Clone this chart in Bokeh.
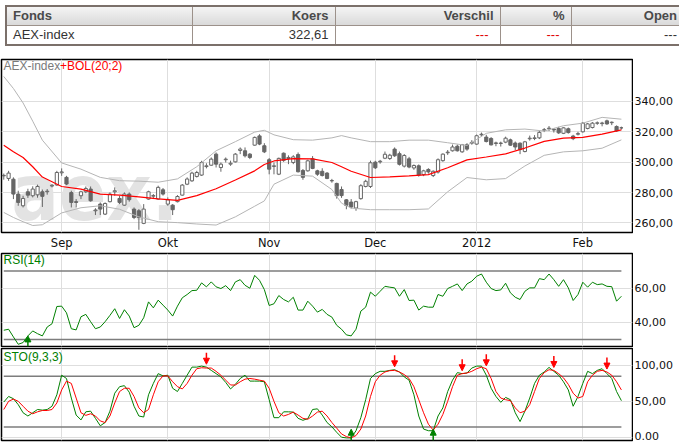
from bokeh.plotting import figure
from bokeh.layouts import column, row
from bokeh.models import (ColumnDataSource, LinearAxis, FixedTicker, Range1d, Div,
                          Arrow, NormalHead, Grid)
from bokeh.core.properties import value
from bokeh.embed import file_html
from bokeh.resources import INLINE

# ---------------- data ----------------
table_headers = ["Fonds", "Koers", "Verschil", "%", "Open"]
table_row = ["AEX-index", "322,61", "---", "---", "---"]

month_idx = [12, 34, 55, 77, 98, 120]
month_labels = ["Sep", "Okt", "Nov", "Dec", "2012", "Feb"]

price_ticks = [260, 280, 300, 320, 340]
price_labels = ["260,00", "280,00", "300,00", "320,00", "340,00"]
rsi_ticks = [40, 60]
rsi_labels = ["40,00", "60,00"]
rsi_levels = [30, 70]
sto_ticks = [0, 50, 100]
sto_labels = ["0.00", "50,00", "100,00"]
sto_levels = [15, 85]

opens = [291.0, 289.3, 288.8, 279.0, 271.3, 280.5, 277.9, 278.5, 280.5, 280.5,
         284.3, 285.0, 293.0, 290.0, 280.0, 274.0, 277.9, 280.5, 282.3, 268.0,
         272.4, 265.8, 274.0, 280.5, 276.1, 271.7, 279.0, 269.1, 268.0, 259.7,
         275.7, 277.6, 275.7, 281.8, 272.4, 271.7, 274.0, 278.3, 285.5, 287.7,
         290.6, 291.5, 297.1, 298.0, 305.3, 296.5, 301.6, 298.7, 300.2, 307.7,
         307.5, 305.3, 311.2, 317.3, 310.8, 301.6, 297.2, 292.1, 305.9, 302.4,
         299.8, 305.0, 294.5, 294.3, 302.2, 294.3, 294.0, 292.8, 287.7, 286.0,
         282.0, 275.2, 273.7, 269.8, 276.0, 284.0, 284.0, 300.0, 300.2, 302.6,
         302.4, 308.6, 305.6, 297.4, 302.2, 296.2, 297.6, 291.8, 295.2, 291.2,
         293.5, 301.0, 306.2, 307.5, 310.5, 306.8, 311.5, 312.5, 311.9, 318.0,
         316.5, 315.6, 312.3, 312.3, 313.2, 314.7, 312.6, 312.5, 307.0, 315.4,
         315.6, 316.0, 321.0, 322.0, 321.7, 322.2, 319.0, 322.0, 317.2, 318.4,
         320.0, 322.2, 322.8, 325.6, 325.4, 327.2, 326.0, 323.5, 322.6]
highs = [292.5, 294.3, 290.0, 281.2, 277.9, 282.5, 284.1, 285.2, 282.0, 282.3,
         285.6, 294.3, 295.9, 291.0, 281.2, 275.7, 281.2, 284.0, 284.0, 269.7,
         273.5, 273.5, 280.1, 283.4, 277.9, 280.1, 280.1, 270.2, 269.1, 272.4,
         281.2, 279.0, 284.5, 283.0, 276.8, 272.4, 278.3, 285.6, 290.0, 293.7,
         294.3, 300.9, 299.3, 303.1, 306.4, 299.8, 303.1, 301.0, 306.0, 309.7,
         309.7, 306.0, 316.9, 318.4, 312.5, 302.7, 299.8, 303.0, 306.4, 304.5,
         304.6, 306.4, 295.5, 301.6, 304.0, 295.0, 296.0, 293.5, 289.0, 286.5,
         284.0, 275.7, 275.7, 274.6, 285.5, 288.4, 301.0, 300.9, 301.5, 307.0,
         305.5, 309.7, 307.0, 305.3, 303.5, 298.5, 298.5, 295.0, 296.0, 294.6,
         302.5, 305.8, 308.0, 311.6, 311.6, 312.0, 312.5, 314.5, 318.2, 319.5,
         318.0, 316.5, 313.5, 313.5, 316.8, 315.5, 313.6, 313.0, 314.0, 317.5,
         317.8, 320.5, 322.5, 323.8, 322.5, 323.3, 323.0, 322.8, 318.0, 320.0,
         326.4, 325.8, 326.4, 326.8, 326.6, 328.0, 326.8, 324.2, 323.4]
lows = [288.5, 287.7, 275.7, 271.3, 270.2, 276.5, 276.8, 276.6, 270.5, 278.6,
        283.4, 284.5, 291.0, 284.9, 270.2, 270.2, 275.7, 279.6, 274.0, 265.2,
        265.2, 265.2, 273.5, 277.9, 272.4, 271.3, 274.0, 262.5, 255.5, 259.2,
        275.3, 275.7, 275.3, 278.0, 271.3, 265.2, 273.5, 277.9, 284.9, 287.1,
        289.9, 291.0, 295.9, 297.6, 296.5, 293.7, 299.8, 297.6, 299.8, 305.3,
        303.1, 302.0, 310.8, 311.2, 306.0, 292.0, 292.0, 291.5, 300.2, 298.7,
        298.7, 293.2, 288.4, 293.8, 295.4, 291.0, 290.6, 288.8, 286.5, 276.0,
        276.5, 269.0, 269.5, 268.0, 275.3, 283.4, 283.0, 295.5, 299.0, 302.0,
        301.5, 303.5, 297.8, 296.5, 296.0, 295.0, 290.5, 290.8, 292.5, 290.2,
        292.5, 300.3, 304.8, 307.0, 307.0, 306.2, 307.5, 311.5, 311.5, 317.0,
        313.0, 311.0, 310.5, 310.3, 312.5, 310.8, 308.0, 305.3, 306.5, 314.2,
        314.5, 315.2, 319.8, 320.5, 319.5, 318.6, 318.5, 318.8, 314.5, 317.6,
        319.5, 321.6, 322.2, 324.6, 323.6, 324.6, 324.4, 320.0, 321.5]
closes = [291.3, 292.8, 279.0, 273.5, 276.1, 278.3, 282.3, 284.0, 277.5, 280.9,
          284.8, 293.2, 293.6, 285.6, 273.5, 273.5, 280.5, 282.7, 274.6, 268.5,
          269.1, 272.8, 279.0, 281.2, 273.5, 279.0, 275.3, 263.6, 263.6, 269.1,
          280.5, 278.0, 283.4, 279.0, 275.2, 268.7, 277.4, 284.9, 288.9, 292.8,
          293.2, 299.8, 297.6, 302.0, 298.7, 298.7, 302.0, 299.3, 305.3, 308.6,
          304.2, 303.1, 316.3, 311.9, 306.8, 295.4, 297.6, 302.5, 301.2, 303.1,
          303.5, 293.7, 290.0, 300.9, 295.9, 292.1, 291.2, 289.3, 287.9, 277.9,
          278.0, 271.5, 270.5, 274.0, 284.5, 287.4, 299.6, 296.3, 300.6, 305.2,
          304.6, 304.2, 298.6, 304.4, 296.8, 297.8, 291.5, 294.3, 293.6, 294.0,
          301.6, 305.3, 306.6, 310.0, 307.5, 311.5, 308.6, 313.0, 317.4, 318.4,
          313.6, 311.4, 312.7, 312.6, 315.8, 311.2, 310.0, 308.3, 313.4, 315.8,
          316.0, 319.6, 321.4, 322.4, 321.2, 319.3, 322.6, 319.5, 315.5, 318.8,
          325.7, 325.2, 325.7, 325.9, 325.8, 325.2, 326.3, 320.6, 322.61]

band_idx = [0, 2, 4, 6, 8, 12, 16, 20, 24, 28, 32, 36, 40, 44, 48, 52, 54, 56, 60,
            64, 68, 70, 72, 76, 80, 84, 88, 92, 96, 100, 104, 108, 112, 116, 120, 124, 128]
bb_mid = [311.2, 306.8, 303.1, 297.0, 290.2, 284.0, 282.3, 279.0, 278.3, 277.2,
          275.8, 274.8, 278.0, 282.5, 288.3, 294.3, 298.5, 300.8, 302.4, 302.2,
          299.8, 297.0, 294.0, 289.9, 290.3, 291.0, 291.8, 296.3, 301.5, 303.4,
          305.5, 309.3, 313.7, 315.8, 316.3, 318.5, 321.3]
bb_up = [356.4, 348.5, 339.0, 327.0, 314.5, 299.5, 295.4, 290.0, 287.8, 287.5,
         286.8, 289.0, 297.0, 307.5, 313.5, 319.8, 321.0, 318.0, 314.8, 314.5,
         316.0, 317.5, 316.0, 313.5, 313.5, 314.5, 314.5, 312.8, 311.0, 319.0,
         321.3, 321.8, 320.5, 324.0, 325.7, 329.5, 328.3]
bb_low = [266.9, 263.6, 260.8, 258.3, 258.8, 266.6, 270.0, 271.3, 269.0, 264.0,
          260.8, 260.2, 259.3, 258.6, 264.0, 271.0, 274.5, 285.5, 291.5, 290.8,
          282.0, 273.0, 269.8, 268.7, 268.7, 268.7, 269.2, 280.5, 289.9, 288.4,
          289.2, 297.5, 304.5, 306.8, 307.5, 309.2, 314.7]

rsi = [35.4, 36.0, 31.5, 27.2, 28.2, 32.1, 35.0, 33.4, 32.1, 37.3,
       39.2, 49.3, 49.5, 45.6, 36.3, 35.6, 43.3, 44.7, 40.4, 36.3,
       37.3, 40.4, 44.1, 48.0, 42.3, 47.4, 43.7, 36.9, 38.3, 42.7,
       52.0, 48.5, 53.0, 50.1, 47.2, 43.7, 49.5, 54.4, 56.3, 58.6,
       58.8, 63.1, 60.8, 63.7, 60.8, 59.8, 61.5, 58.6, 63.7, 65.0,
       61.7, 60.0, 67.5, 64.6, 59.2, 49.9, 50.9, 55.7, 53.4, 52.0,
       54.7, 47.2, 47.2, 52.4, 49.5, 46.0, 47.6, 44.7, 43.1, 38.3,
       36.0, 32.7, 32.1, 36.0, 46.6, 48.9, 57.7, 55.3, 58.2, 61.1,
       60.6, 60.2, 55.3, 59.2, 52.8, 53.0, 47.2, 49.5, 48.9, 48.9,
       56.3, 55.3, 59.8, 61.1, 62.5, 58.6, 62.5, 64.1, 67.0, 68.3,
       63.5, 59.8, 58.6, 59.0, 62.9, 57.3, 54.7, 53.4, 58.2, 60.2,
       60.2, 65.6, 65.0, 68.3, 65.0, 61.1, 65.0, 60.2, 52.8, 56.3,
       63.5, 60.6, 63.5, 62.1, 62.5, 61.1, 60.9, 52.4, 55.3]

sto_k = [49.5, 57.2, 54.1, 45.9, 34.7, 30.2, 34.7, 39.2, 38.3, 39.2,
         43.7, 59.5, 86.5, 82.0, 55.0, 31.5, 24.8, 36.0, 36.9, 27.0,
         16.7, 21.2, 36.9, 61.7, 70.7, 72.1, 63.1, 43.7, 30.2, 28.8,
         59.5, 75.2, 88.7, 85.6, 86.5, 68.5, 64.0, 75.2, 86.5, 97.7,
         97.7, 99.1, 97.7, 93.2, 88.7, 84.2, 76.6, 67.6, 73.9, 82.0,
         86.5, 78.4, 78.4, 78.4, 77.5, 52.7, 27.9, 27.9, 36.0, 36.0,
         35.6, 27.0, 24.3, 26.6, 39.2, 40.1, 31.5, 21.2, 15.3, 7.7,
         0.9, 0.0, 0.0, 9.9, 27.9, 52.7, 82.0, 88.7, 91.9, 91.9,
         93.2, 94.1, 91.0, 84.2, 79.7, 59.5, 30.2, 12.2, 9.9, 9.9,
         30.2, 41.4, 64.0, 79.7, 90.1, 88.7, 89.6, 96.4, 99.1, 99.1,
         86.5, 68.5, 57.2, 49.1, 55.9, 52.7, 34.7, 22.5, 36.9, 55.0,
         75.2, 86.5, 91.0, 97.3, 91.9, 86.5, 77.5, 66.2, 43.7, 57.2,
         75.2, 91.9, 88.7, 93.2, 95.5, 88.7, 82.0, 64.0, 51.4]
sto_d = [39.2, 50.5, 53.6, 50.5, 43.7, 36.9, 33.3, 36.0, 37.8, 37.8,
         39.2, 48.2, 66.2, 78.4, 75.2, 55.0, 34.7, 31.1, 33.3, 30.2,
         23.4, 21.2, 30.2, 48.2, 64.0, 68.5, 68.5, 57.2, 41.4, 34.7,
         39.2, 59.5, 77.5, 85.6, 85.6, 77.5, 70.7, 67.6, 75.2, 86.5,
         95.5, 96.8, 96.4, 96.4, 91.9, 86.5, 79.7, 73.0, 73.0, 77.5,
         81.1, 82.0, 81.1, 79.7, 78.4, 68.5, 50.5, 34.7, 30.2, 32.4,
         35.6, 31.5, 27.0, 25.7, 30.2, 35.6, 36.9, 30.2, 21.2, 13.5,
         5.4, 1.8, 0.0, 3.2, 12.2, 30.2, 57.2, 77.5, 86.5, 91.0,
         92.8, 93.2, 91.0, 87.4, 82.0, 70.7, 52.7, 34.7, 18.9, 10.8,
         18.9, 32.4, 50.5, 70.7, 86.5, 88.7, 89.6, 91.9, 95.5, 97.7,
         95.5, 82.0, 64.0, 55.0, 52.7, 51.4, 41.4, 34.7, 36.9, 45.9,
         64.0, 82.0, 90.1, 94.1, 93.2, 88.7, 82.9, 73.9, 61.7, 55.0,
         57.2, 77.5, 86.5, 91.9, 93.2, 91.0, 86.5, 77.5, 66.2]

rsi_buy = [5]
sto_buy = [72, 89]
sto_sell = [42, 81, 95, 100, 114, 125]

# ---------------- styling ----------------
GRID = "#dedede"
TICK_FONT = "DejaVu Sans"
LEG_FONT = "Liberation Sans"
CANDLE = "#666666"
GREEN = "#008000"
RED = "#ff0000"
PANEL_W = 633
LAB_W = 41

N = len(closes)
idx = list(range(N))

X = Range1d(-0.47, 130.3)
Y_MAIN = Range1d(253.7, 367.6)
Y_RSI = Range1d(25.9, 80.3)
Y_STO = Range1d(-3.6, 123.4)


def panel(h, yr, bt, bb, yticks):
    f = figure(width=PANEL_W, height=h, x_range=X, y_range=yr, output_backend="svg",
               toolbar_location=None, x_axis_type=None, y_axis_type=None,
               min_border_left=1, min_border_right=1, min_border_top=bt,
               min_border_bottom=bb, background_fill_color="white",
               border_fill_color="white", outline_line_color="black",
               outline_line_width=1.5)
    f.add_layout(Grid(dimension=0, ticker=FixedTicker(ticks=month_idx),
                      grid_line_color=GRID, grid_line_width=1))
    f.add_layout(Grid(dimension=1, ticker=FixedTicker(ticks=yticks),
                      grid_line_color=GRID, grid_line_width=1))
    return f


def label_fig(h, yr, bt, bb, ticks, texts):
    g = figure(width=LAB_W, height=h, x_range=Range1d(0, 1), y_range=yr,
               output_backend="svg", toolbar_location=None,
               x_axis_type=None, y_axis_type=None, min_border_left=0,
               min_border_right=0, min_border_top=bt, min_border_bottom=bb,
               outline_line_color=None, background_fill_color="white",
               border_fill_color="white")
    g.text(x=[0] * len(ticks), y=ticks, text=texts, x_offset=1,
           text_align="left", text_baseline="middle",
           text_font=value(TICK_FONT), text_font_size="11px",
           text_color="#111111")
    return g


def legend_text(f, yr, txt, color, xoff, yoff):
    f.text(x=[X.start], y=[yr.end], text=[txt], x_offset=xoff, y_offset=yoff,
           text_align="left", text_baseline="middle",
           text_font=value(LEG_FONT), text_font_size="12px", text_color=color)


# ---------------- main chart ----------------
main = panel(201, Y_MAIN, 8, 20, price_ticks)

main.text(x=[X.start], y=[Y_MAIN.start], text=["aex."], x_offset=10, y_offset=-40,
          text_align="left", text_baseline="middle",
          text_font=value("Liberation Sans Narrow, DejaVu Sans Condensed, sans-serif"),
          text_font_style="bold", text_font_size="78px", text_color="#e3e3e3")

csrc = ColumnDataSource(dict(
    x=idx, h=highs, l=lows,
    top=[max(o, c) for o, c in zip(opens, closes)],
    bot=[min(o, c) for o, c in zip(opens, closes)],
    fill=["white" if c >= o else CANDLE for o, c in zip(opens, closes)],
))
main.segment(x0="x", x1="x", y0="l", y1="h", source=csrc,
             line_color=CANDLE, line_width=1)
main.vbar(x="x", width=0.66, top="top", bottom="bot", source=csrc,
          fill_color="fill", line_color=CANDLE, line_width=1)

main.line(band_idx, bb_up, line_color="#b5b5b5", line_width=1)
main.line(band_idx, bb_low, line_color="#b5b5b5", line_width=1)
main.line(band_idx, bb_mid, line_color=RED, line_width=1.2)

legend_text(main, Y_MAIN, "AEX-index", "#7a7a7a", 2, 6)
legend_text(main, Y_MAIN, "+BOL(20;2)", RED, 58.5, 6)

xax = LinearAxis(ticker=FixedTicker(ticks=month_idx),
                 major_label_overrides={i: s for i, s in zip(month_idx, month_labels)},
                 axis_line_color=None, major_tick_line_color=None,
                 minor_tick_line_color=None, major_tick_out=0, major_tick_in=0,
                 major_label_standoff=3, major_label_text_font=TICK_FONT,
                 major_label_text_font_size="11.5px",
                 major_label_text_color="#111111")
main.add_layout(xax, "below")

main_lab = label_fig(201, Y_MAIN, 8, 20, price_ticks, price_labels)

# ---------------- RSI ----------------
rsi_fig = panel(95, Y_RSI, 1, 1, rsi_ticks)
for lv in rsi_levels:
    rsi_fig.segment(x0=[idx[0]], x1=[idx[-1]], y0=[lv], y1=[lv],
                    line_color="#7d7d7d", line_width=1.5)
rsi_fig.line(idx, rsi, line_color=GREEN, line_width=1)
rsi_arrows = ColumnDataSource(dict(x=rsi_buy, y0=[Y_RSI.start] * len(rsi_buy),
                                   y1=[rsi[i] for i in rsi_buy]))
rsi_fig.add_layout(Arrow(source=rsi_arrows, x_start="x", y_start="y0", x_end="x",
                         y_end="y1", line_color=GREEN, line_width=1.5,
                         end=NormalHead(size=6, fill_color=GREEN, line_color=GREEN)))
legend_text(rsi_fig, Y_RSI, "RSI(14)", GREEN, 2, 6)
rsi_lab = label_fig(95, Y_RSI, 1, 1, rsi_ticks, rsi_labels)

# ---------------- STO ----------------
sto_fig = panel(95, Y_STO, 1, 2, sto_ticks)
for lv in sto_levels:
    sto_fig.segment(x0=[idx[0]], x1=[idx[-1]], y0=[lv], y1=[lv],
                    line_color="#7d7d7d", line_width=1.5)
sto_fig.line(idx, sto_k, line_color=GREEN, line_width=1)
sto_fig.line(idx, sto_d, line_color=RED, line_width=1)

sell_tip = [max(sto_k[i], sto_d[i]) + 4 for i in sto_sell]
sell_src = ColumnDataSource(dict(x=sto_sell, y0=[t + 16 for t in sell_tip], y1=sell_tip))
sto_fig.add_layout(Arrow(source=sell_src, x_start="x", y_start="y0", x_end="x",
                         y_end="y1", line_color=RED, line_width=1.5,
                         end=NormalHead(size=6, fill_color=RED, line_color=RED)))
buy_src = ColumnDataSource(dict(x=sto_buy, y0=[Y_STO.start] * len(sto_buy),
                                y1=[12] * len(sto_buy)))
sto_fig.add_layout(Arrow(source=buy_src, x_start="x", y_start="y0", x_end="x",
                         y_end="y1", line_color=GREEN, line_width=1.5,
                         end=NormalHead(size=6, fill_color=GREEN, line_color=GREEN)))
legend_text(sto_fig, Y_STO, "STO(9,3,3)", GREEN, 2, 8)

span = Y_STO.end - Y_STO.start
Y_STO_LAB = Range1d(Y_STO.start - 2 * span / 92.0, Y_STO.end)
sto_lab = label_fig(95, Y_STO_LAB, 1, 0, sto_ticks, sto_labels)

# ---------------- table ----------------
col_w = [186, 143, 165, 71, 113]
aligns = ["left", "right", "right", "right", "right"]
row_colors = ["#333333", "#333333", "#e00000", "#e00000", "#333333"]
row_pad = [6, 6, 11, 11, 6]
font = "'Liberation Sans Narrow','Arial Narrow','Liberation Sans',sans-serif"
cell = ("border:1px solid #9c918a;height:18px;line-height:18px;padding:0 6px;"
        "white-space:nowrap;overflow:hidden;")
cols = "".join(f'<col style="width:{w}px">' for w in col_w)
head = "".join(
    f'<td style="{cell}text-align:{a};font-weight:bold;color:#4a4a4a;'
    f'background:linear-gradient(#f4f4f4,#d9d9d9);">{t}</td>'
    for t, a in zip(table_headers, aligns))
body = "".join(
    f'<td style="{cell}text-align:{a};color:{c};padding-right:{p}px;">{t}</td>'
    for t, a, c, p in zip(table_row, aligns, row_colors, row_pad))
html = (f'<div style="width:674px;height:41px;overflow:hidden;">'
        f'<table style="border-collapse:collapse;table-layout:fixed;width:{sum(col_w)}px;'
        f'font-family:{font};font-size:13px;border:2px solid #7b706a;">'
        f'<colgroup>{cols}</colgroup><tr>{head}</tr><tr>{body}</tr></table></div>')
table = Div(text=html, width=674, height=41, styles={"overflow": "hidden"})

layout = column(table, row(main, main_lab), row(rsi_fig, rsi_lab),
                row(sto_fig, sto_lab))

open("out.html", "w").write(file_html(layout, INLINE, title="AEX-index"))
